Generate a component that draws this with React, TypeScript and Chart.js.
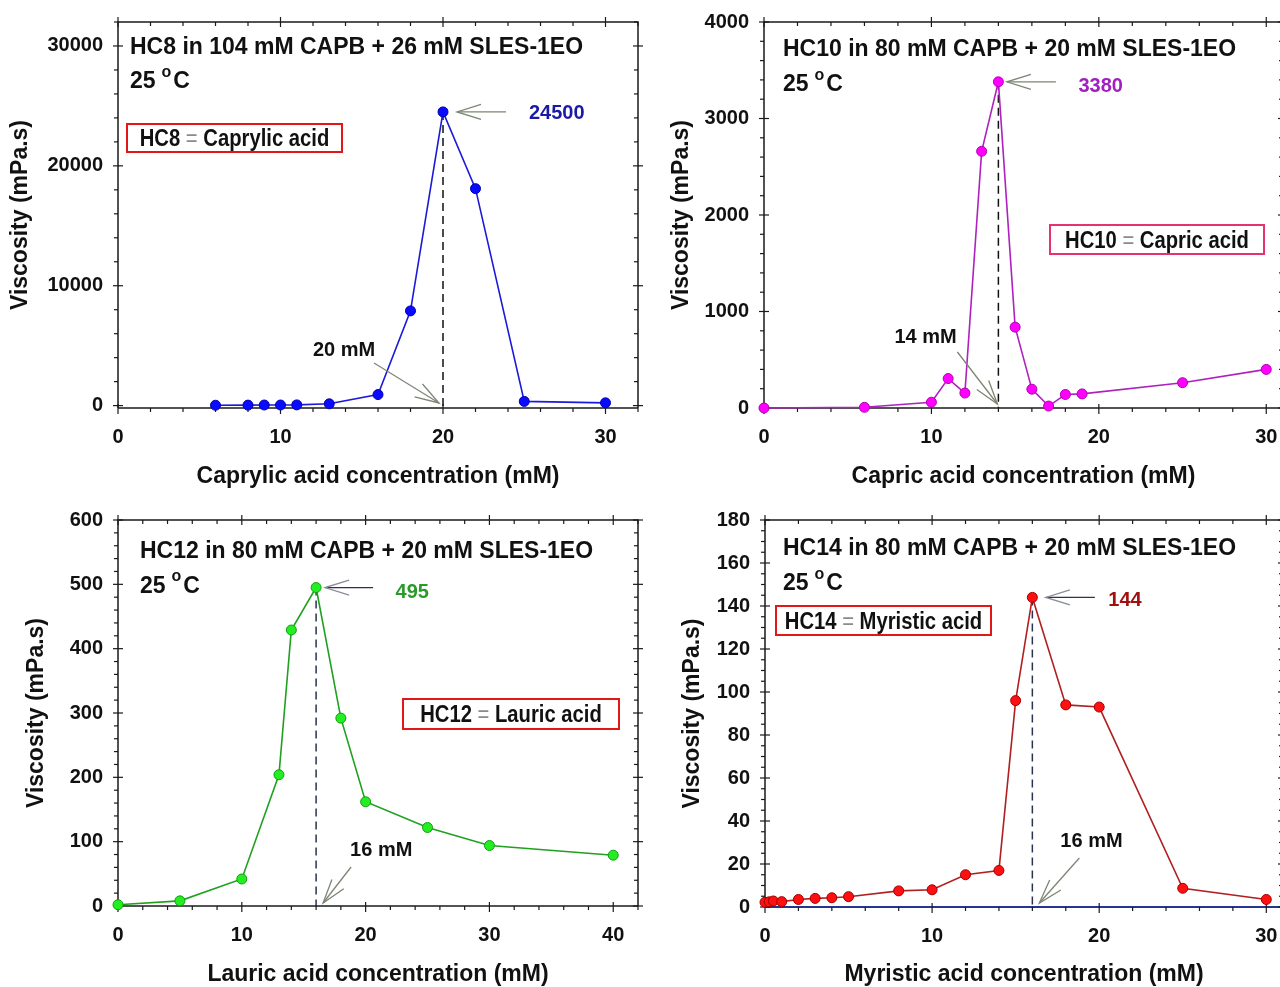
import React, { useEffect, useRef } from 'react';
import { Chart, registerables } from 'chart.js';

Chart.register(...registerables);

// ---------- data ----------
const hc8Conc = [6, 8, 9, 10, 11, 13, 16, 18, 20, 22, 25, 30];
const hc8Visc = [30, 40, 50, 50, 60, 150, 920, 7900, 24500, 18100, 350, 230];

const hc10Conc = [0, 6, 10, 11, 12, 13, 14, 15, 16, 17, 18, 19, 25, 30];
const hc10Visc = [0, 7, 60, 305, 155, 2660, 3380, 838, 195, 20, 140, 146, 262, 400];

const hc12Conc = [0, 5, 10, 13, 14, 16, 18, 20, 25, 30, 40];
const hc12Visc = [2, 8, 42, 204, 429, 495, 292, 162, 122, 94, 79];

const hc14Conc = [0, 0.25, 0.5, 1, 2, 3, 4, 5, 8, 10, 12, 14, 15, 16, 18, 20, 25, 30];
const hc14Visc = [2.2, 2.4, 2.8, 2.5, 3.5, 4, 4.3, 4.8, 7.5, 8, 15, 17, 96, 144, 94, 93, 8.7, 3.5];

const xTicks30 = [0, 10, 20, 30];
const xTicks40 = [0, 10, 20, 30, 40];
const yTicksHC8 = [0, 10000, 20000, 30000];
const yTicksHC10 = [0, 1000, 2000, 3000, 4000];
const yTicksHC12 = [0, 100, 200, 300, 400, 500, 600];
const yTicksHC14 = [0, 20, 40, 60, 80, 100, 120, 140, 160, 180];

const FONT = "'Liberation Sans', Arial, Helvetica, sans-serif";
const INK = '#111111';

type Box = { left: number; top: number; width: number; height: number };
type Area = { left: number; top: number; right: number; bottom: number };
type Pt = [number, number];

interface PanelSpec {
  conc: number[];
  visc: number[];
  xTicks: number[];
  yTicks: number[];
  xMax: number;
  yMin: number;
  yMax: number;
  xMinor: number;
  yMinor: number;
  title: string;
  shortName: string;
  acidName: string;
  xTitle: string;
  canvas: Box;
  area: Area;
  yTitlePad: number;
  xTitlePad: number;
  titleDx: number;
  titleDy: number;
  tempDy: number;
  box: { x: number; y: number; w: number; h: number; color: string };
  peak: { tipDx: number; tailDx: number; labelDx: number; labelDy: number; color: string; shaft: string; head: string };
  annot: { tip: Pt; tail: Pt; text: Pt };
  line: string;
  fill: string;
  edge: string;
  dash: string;
  base: string;
  baseWidth: number;
}

const panels: PanelSpec[] = [
  {
    conc: hc8Conc, visc: hc8Visc, xTicks: xTicks30, yTicks: yTicksHC8,
    xMax: 32, yMin: -200, yMax: 32000, xMinor: 2, yMinor: 2000,
    title: 'HC8 in 104 mM CAPB + 26 mM SLES-1EO', shortName: 'HC8', acidName: 'Caprylic acid',
    xTitle: 'Caprylic acid concentration (mM)',
    canvas: { left: 0, top: 0, width: 644, height: 493 },
    area: { left: 118, top: 22, right: 638, bottom: 408 },
    yTitlePad: 7, xTitlePad: 2.5, titleDx: 12, titleDy: 32, tempDy: 66,
    box: { x: 9, y: 102, w: 215, h: 28, color: '#e01818' },
    peak: { tipDx: 14, tailDx: 63, labelDx: 86, labelDy: 7, color: '#1a1aa8', shaft: '#7d8575', head: '#7d8575' },
    annot: { tip: [-4, -5], tail: [-69, -45], text: [-130, -52] },
    line: '#1a1ad8', fill: '#0a0aff', edge: '#0000b0', dash: '#111', base: '#1a1a1a', baseWidth: 1.5,
  },
  {
    conc: hc10Conc, visc: hc10Visc, xTicks: xTicks30, yTicks: yTicksHC10,
    xMax: 31, yMin: 0, yMax: 4000, xMinor: 2, yMinor: 200,
    title: 'HC10 in 80 mM CAPB + 20 mM SLES-1EO', shortName: 'HC10', acidName: 'Capric acid',
    xTitle: 'Capric acid concentration (mM)',
    canvas: { left: 640, top: 0, width: 660, height: 493 },
    area: { left: 764, top: 22, right: 1283, bottom: 408 },
    yTitlePad: 28, xTitlePad: 2.5, titleDx: 19, titleDy: 34, tempDy: 69,
    box: { x: 286, y: 203, w: 214, h: 29, color: '#e8326e' },
    peak: { tipDx: 8.5, tailDx: 57.5, labelDx: 80, labelDy: 9.7, color: '#a020c0', shaft: '#7d8575', head: '#7d8575' },
    annot: { tip: [-1, -4], tail: [-41, -56], text: [-104, -65] },
    line: '#b020c0', fill: '#ff00ff', edge: '#b000b0', dash: '#111', base: '#1a1a1a', baseWidth: 1.5,
  },
  {
    conc: hc12Conc, visc: hc12Visc, xTicks: xTicks40, yTicks: yTicksHC12,
    xMax: 42, yMin: 0, yMax: 600, xMinor: 2, yMinor: 20,
    title: 'HC12 in 80 mM CAPB + 20 mM SLES-1EO', shortName: 'HC12', acidName: 'Lauric acid',
    xTitle: 'Lauric acid concentration (mM)',
    canvas: { left: 0, top: 493, width: 644, height: 500 },
    area: { left: 118, top: 520, right: 638, bottom: 906 },
    yTitlePad: 23, xTitlePad: 4.2, titleDx: 22, titleDy: 38, tempDy: 72.7,
    box: { x: 285, y: 179, w: 216, h: 30, color: '#e01818' },
    peak: { tipDx: 9, tailDx: 57, labelDx: 79.5, labelDy: 10.6, color: '#2a9a2a', shaft: '#2a3350', head: '#8a8a9a' },
    annot: { tip: [7, -3], tail: [35, -39], text: [34, -50] },
    line: '#20a020', fill: '#22ee22', edge: '#10a010', dash: '#2a3350', base: '#1a1a1a', baseWidth: 1.5,
  },
  {
    conc: hc14Conc, visc: hc14Visc, xTicks: xTicks30, yTicks: yTicksHC14,
    xMax: 31, yMin: 0, yMax: 180, xMinor: 2, yMinor: 5,
    title: 'HC14 in 80 mM CAPB + 20 mM SLES-1EO', shortName: 'HC14', acidName: 'Myristic acid',
    xTitle: 'Myristic acid concentration (mM)',
    canvas: { left: 640, top: 493, width: 660, height: 500 },
    area: { left: 765, top: 520, right: 1283, bottom: 907 },
    yTitlePad: 39, xTitlePad: 4.2, titleDx: 18, titleDy: 35, tempDy: 70,
    box: { x: 11, y: 86, w: 215, h: 29, color: '#e01818' },
    peak: { tipDx: 13.5, tailDx: 62.5, labelDx: 76, labelDy: 8.3, color: '#a01010', shaft: '#2a3350', head: '#8a8a9a' },
    annot: { tip: [7, -4], tail: [47, -49], text: [28, -60] },
    line: '#b02020', fill: '#ff1010', edge: '#a00000', dash: '#2a3350', base: '#26358f', baseWidth: 2,
  },
];

type Piece = { t: string; font: string; color: string; dy?: number; sx?: number; gap?: number };

function richWidth(ctx: CanvasRenderingContext2D, pieces: Piece[]) {
  let w = 0;
  for (const p of pieces) {
    ctx.font = p.font;
    w += ctx.measureText(p.t).width * (p.sx ?? 1) + (p.gap ?? 0);
  }
  return w;
}

function drawRich(ctx: CanvasRenderingContext2D, x: number, baseline: number, pieces: Piece[]) {
  let cx = x;
  for (const p of pieces) {
    ctx.save();
    ctx.font = p.font;
    ctx.fillStyle = p.color;
    ctx.textAlign = 'left';
    ctx.textBaseline = 'alphabetic';
    const sx = p.sx ?? 1;
    ctx.translate(cx, baseline + (p.dy ?? 0));
    ctx.scale(sx, 1);
    ctx.fillText(p.t, 0, 0);
    const w = ctx.measureText(p.t).width * sx;
    ctx.restore();
    cx += w + (p.gap ?? 0);
  }
}

function drawArrow(ctx: CanvasRenderingContext2D, tail: Pt, tip: Pt, shaft: string, head: string) {
  const dx = tail[0] - tip[0];
  const dy = tail[1] - tip[1];
  const len = Math.hypot(dx, dy);
  const ux = dx / len;
  const uy = dy / len;
  const hl = 24;
  const hw = 7.5;
  ctx.save();
  ctx.lineWidth = 1.3;
  ctx.strokeStyle = shaft;
  ctx.beginPath();
  ctx.moveTo(tail[0], tail[1]);
  ctx.lineTo(tip[0], tip[1]);
  ctx.stroke();
  ctx.strokeStyle = head;
  ctx.beginPath();
  ctx.moveTo(tip[0] + ux * hl - uy * hw, tip[1] + uy * hl + ux * hw);
  ctx.lineTo(tip[0], tip[1]);
  ctx.lineTo(tip[0] + ux * hl + uy * hw, tip[1] + uy * hl - ux * hw);
  ctx.stroke();
  ctx.restore();
}

function peakIndex(v: number[]) {
  let k = 0;
  v.forEach((y, i) => {
    if (y > v[k]) k = i;
  });
  return k;
}

function makePlugin(p: PanelSpec) {
  return {
    id: 'decor',
    beforeDatasetsDraw(chart: any) {
      const { ctx, chartArea: a, scales } = chart;
      const xs = scales.x;
      const ys = scales.y;
      const k = peakIndex(p.visc);
      const px = xs.getPixelForValue(p.conc[k]);
      const py = ys.getPixelForValue(p.visc[k]);
      ctx.save();
      // dashed marker of the peak concentration
      ctx.setLineDash([8, 5]);
      ctx.strokeStyle = p.dash;
      ctx.lineWidth = 1.5;
      ctx.beginPath();
      ctx.moveTo(px, py);
      ctx.lineTo(px, a.bottom);
      ctx.stroke();
      ctx.setLineDash([]);
      // frame
      ctx.strokeStyle = '#1a1a1a';
      ctx.lineWidth = 1.5;
      ctx.beginPath();
      ctx.moveTo(a.left, a.bottom);
      ctx.lineTo(a.left, a.top);
      ctx.lineTo(a.right, a.top);
      ctx.lineTo(a.right, a.bottom);
      ctx.stroke();
      ctx.strokeStyle = p.base;
      ctx.lineWidth = p.baseWidth;
      ctx.beginPath();
      ctx.moveTo(a.left, a.bottom);
      ctx.lineTo(a.right, a.bottom);
      ctx.stroke();
      // ticks
      ctx.strokeStyle = '#1a1a1a';
      ctx.lineWidth = 1.2;
      const seg = (x1: number, y1: number, x2: number, y2: number) => {
        ctx.beginPath();
        ctx.moveTo(x1, y1);
        ctx.lineTo(x2, y2);
        ctx.stroke();
      };
      const nx = Math.floor(p.xMax / p.xMinor + 1e-9);
      for (let i = 0; i <= nx; i++) {
        const v = i * p.xMinor;
        const x = xs.getPixelForValue(v);
        const maj = p.xTicks.some((t) => Math.abs(t - v) < 1e-9);
        seg(x, a.bottom + (maj ? -4 : 0), x, a.bottom + (maj ? 6 : 4));
        seg(x, a.top + (maj ? -5 : 0), x, a.top + (maj ? 5 : 4));
      }
      const y0 = Math.ceil(p.yMin / p.yMinor - 1e-9);
      const y1 = Math.floor(p.yMax / p.yMinor + 1e-9);
      for (let i = y0; i <= y1; i++) {
        const v = i * p.yMinor;
        const y = ys.getPixelForValue(v);
        const maj = p.yTicks.some((t) => Math.abs(t - v) < 1e-9);
        seg(a.left + (maj ? -5 : -4), y, a.left + (maj ? 5 : 0), y);
        seg(a.right - (maj ? 5 : 4), y, a.right + (maj ? 5 : 0), y);
      }
      ctx.restore();
    },
    afterDatasetsDraw(chart: any) {
      const { ctx, chartArea: a, scales } = chart;
      const xs = scales.x;
      const ys = scales.y;
      const bold23 = `bold 23px ${FONT}`;
      ctx.save();
      // title lines
      drawRich(ctx, a.left + p.titleDx, a.top + p.titleDy, [{ t: p.title, font: bold23, color: INK }]);
      drawRich(ctx, a.left + p.titleDx, a.top + p.tempDy, [
        { t: '25', font: bold23, color: INK, gap: 6 },
        { t: 'o', font: `bold 16px ${FONT}`, color: INK, dy: -11.5, gap: 2 },
        { t: 'C', font: bold23, color: INK },
      ]);
      // name box
      const bx = a.left + p.box.x;
      const by = a.top + p.box.y;
      ctx.fillStyle = '#ffffff';
      ctx.fillRect(bx, by, p.box.w, p.box.h);
      ctx.strokeStyle = p.box.color;
      ctx.lineWidth = 2;
      ctx.strokeRect(bx, by, p.box.w, p.box.h);
      const boxPieces: Piece[] = [
        { t: p.shortName + ' ', font: bold23, color: INK, sx: 0.88 },
        { t: '=', font: `23px ${FONT}`, color: '#8a8a8a', sx: 0.88 },
        { t: ' ' + p.acidName, font: bold23, color: INK, sx: 0.88 },
      ];
      const bw = richWidth(ctx, boxPieces);
      drawRich(ctx, bx + (p.box.w - bw) / 2, by + p.box.h / 2 + 8, boxPieces);
      // peak arrow and value
      const k = peakIndex(p.visc);
      const px = xs.getPixelForValue(p.conc[k]);
      const py = ys.getPixelForValue(p.visc[k]);
      drawArrow(ctx, [px + p.peak.tailDx, py], [px + p.peak.tipDx, py], p.peak.shaft, p.peak.head);
      drawRich(ctx, px + p.peak.labelDx, py + p.peak.labelDy, [
        { t: String(p.visc[k]), font: `bold 20px ${FONT}`, color: p.peak.color },
      ]);
      // concentration annotation
      const bxp = px;
      const byp = a.bottom;
      drawArrow(
        ctx,
        [bxp + p.annot.tail[0], byp + p.annot.tail[1]],
        [bxp + p.annot.tip[0], byp + p.annot.tip[1]],
        '#7d8575',
        '#7d8575'
      );
      drawRich(ctx, bxp + p.annot.text[0], byp + p.annot.text[1], [
        { t: `${p.conc[k]} mM`, font: `bold 20px ${FONT}`, color: INK },
      ]);
      ctx.restore();
    },
  };
}

function Panel({ spec }: { spec: PanelSpec }) {
  const ref = useRef<HTMLCanvasElement | null>(null);
  useEffect(() => {
    if (!ref.current) return;
    const p = spec;
    const yAxisW = p.area.left - p.canvas.left;
    const xAxisH = p.canvas.top + p.canvas.height - p.area.bottom;
    const chart = new Chart(ref.current, {
      type: 'scatter',
      data: {
        datasets: [
          {
            data: p.conc.map((x, i) => ({ x, y: p.visc[i] })),
            showLine: true,
            borderColor: p.line,
            borderWidth: 1.6,
            pointBackgroundColor: p.fill,
            pointBorderColor: p.edge,
            pointBorderWidth: 1,
            pointRadius: 5,
            clip: false as any,
          },
        ],
      },
      options: {
        animation: false,
        responsive: false,
        maintainAspectRatio: false,
        events: [],
        layout: {
          padding: {
            top: p.area.top - p.canvas.top,
            right: p.canvas.left + p.canvas.width - p.area.right,
            left: 0,
            bottom: 0,
          },
        },
        plugins: {
          legend: { display: false },
          tooltip: { enabled: false },
          title: { display: false },
        },
        scales: {
          x: {
            type: 'linear',
            min: 0,
            max: p.xMax,
            afterBuildTicks: (s: any) => {
              s.ticks = p.xTicks.map((v) => ({ value: v }));
            },
            afterFit: (s: any) => {
              s.height = xAxisH;
              s.paddingLeft = 0;
              s.paddingRight = 0;
              s.paddingTop = 0;
              s.paddingBottom = 0;
            },
            grid: { display: false, drawTicks: false },
            border: { display: false },
            ticks: {
              padding: 17,
              color: INK,
              autoSkip: false,
              maxRotation: 0,
              font: { family: FONT, size: 20, weight: 'bold' },
              callback: (v: any) => String(v),
            },
            title: {
              display: true,
              text: p.xTitle,
              color: INK,
              font: { family: FONT, size: 23, weight: 'bold' },
              padding: { top: 0, bottom: p.xTitlePad },
            },
          },
          y: {
            type: 'linear',
            min: p.yMin,
            max: p.yMax,
            afterBuildTicks: (s: any) => {
              s.ticks = p.yTicks.map((v) => ({ value: v }));
            },
            afterFit: (s: any) => {
              s.width = yAxisW;
              s.paddingLeft = 0;
              s.paddingRight = 0;
              s.paddingTop = 0;
              s.paddingBottom = 0;
            },
            grid: { display: false, drawTicks: false },
            border: { display: false },
            ticks: {
              padding: 15,
              color: INK,
              autoSkip: false,
              font: { family: FONT, size: 20, weight: 'bold' },
              callback: (v: any) => String(v),
            },
            title: {
              display: true,
              text: 'Viscosity (mPa.s)',
              color: INK,
              font: { family: FONT, size: 23, weight: 'bold' },
              padding: { top: p.yTitlePad, bottom: 0 },
            },
          },
        },
      } as any,
      plugins: [makePlugin(p) as any],
    });
    return () => chart.destroy();
  }, [spec]);
  return (
    <canvas
      ref={ref}
      width={spec.canvas.width}
      height={spec.canvas.height}
      style={{
        position: 'absolute',
        left: spec.canvas.left,
        top: spec.canvas.top,
        width: spec.canvas.width,
        height: spec.canvas.height,
      }}
    />
  );
}

export default function App() {
  return (
    <div
      style={{
        position: 'absolute',
        left: 0,
        top: 0,
        width: 1280,
        height: 987,
        overflow: 'hidden',
        background: '#ffffff',
      }}
    >
      {panels.map((p, i) => (
        <Panel key={i} spec={p} />
      ))}
    </div>
  );
}
